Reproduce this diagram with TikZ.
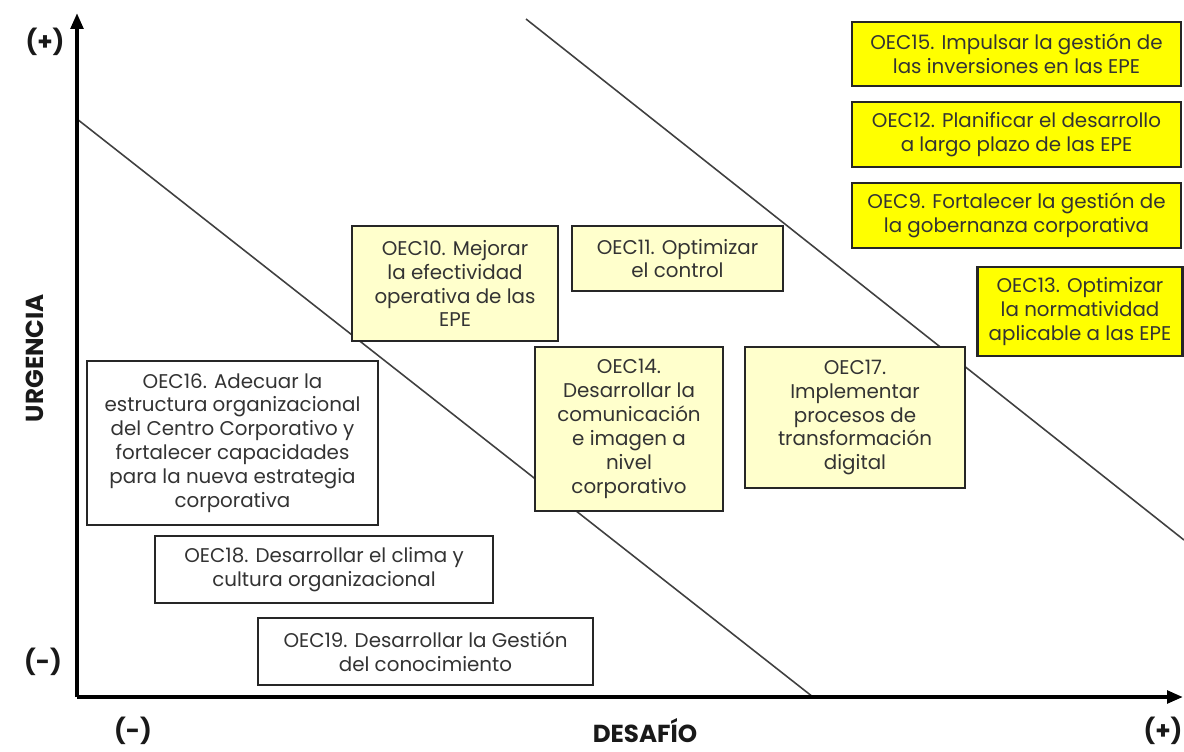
\documentclass[tikz,border=0pt]{standalone}
\usepackage{fontspec}
\setmainfont{Poppins}
\usetikzlibrary{arrows.meta}
\definecolor{paleyellow}{HTML}{FFFFCC}
\definecolor{brightyellow}{HTML}{FFFF00}
\tikzset{
  oecbox/.style={draw=black!85, line width=1.2pt, align=center, font=\fontsize{11.3}{13.6}\selectfont,
    text=black!80, inner sep=0pt},
  oecwhite/.style={oecbox, fill=white},
  oecpale/.style={oecbox, fill=paleyellow},
  oecyellow/.style={oecbox, fill=brightyellow},
  axislabel/.style={font=\fontsize{14}{16}\selectfont\bfseries, text=black!90}
}
\begin{document}
\begin{tikzpicture}[x=0.02cm, y=-0.02cm]
      \useasboundingbox (0,0) rectangle (1184,751);
      \coordinate (O) at (77,697);
      \coordinate (Ytop) at (77,13);
      \coordinate (Xend) at (1183,697);
      \coordinate (L1a) at (77,119);
      \coordinate (L1b) at (813,697);
      \coordinate (L2a) at (526,19);
      \coordinate (L2b) at (1184,540);
      \draw[black!75, line width=0.9pt] (L1a) -- (L1b);
      \draw[black!75, line width=0.9pt] (L2a) -- (L2b);
      \draw[line width=2.2pt, -{Triangle[width=7pt,length=9pt]}] (O) -- (Ytop);
      \draw[line width=2.2pt, -{Triangle[width=7pt,length=9pt]}] (O) -- (Xend);
      % axis labels
      \node[axislabel] (yplus) at (45,42) {(+)};
      \node[axislabel] (yminus) at (43,662) {(-)};
      \node[axislabel] (xminus) at (133,731) {(-)};
      \node[axislabel] (xplus) at (1163,731) {(+)};
      \node[axislabel] (xname) at (645,731) {DESAFÍO};
      \node[axislabel, rotate=90] (yname) at (35,358) {URGENCIA};
      % yellow boxes
      \node[oecyellow, minimum width=6.58cm, minimum height=1.28cm] (oec15) at (1016.5,54) {OEC15. Impulsar la gestión de\\las inversiones en las EPE};
      \node[oecyellow, minimum width=6.58cm, minimum height=1.3cm] (oec12) at (1016.5,134.5) {OEC12. Planificar el desarrollo\\a largo plazo de las EPE};
      \node[oecyellow, minimum width=6.58cm, minimum height=1.3cm] (oec9) at (1016.5,215.5) {OEC9. Fortalecer la gestión de\\la gobernanza corporativa};
      \node[oecyellow, minimum width=4.1cm, minimum height=1.78cm] (oec13) at (1080,311.5) {OEC13. Optimizar\\la normatividad\\aplicable a las EPE};
      % pale boxes
      \node[oecpale, minimum width=4.12cm, minimum height=2.3cm] (oec10) at (455,283.5) {OEC10. Mejorar\\la efectividad\\operativa de las\\EPE};
      \node[oecpale, minimum width=4.22cm, minimum height=1.3cm] (oec11) at (677.5,258.5) {OEC11. Optimizar\\el control};
      \node[oecpale, minimum width=3.76cm, minimum height=3.28cm] (oec14) at (629,429) {OEC14.\\Desarrollar la\\comunicación\\e imagen a\\nivel\\corporativo};
      \node[oecpale, minimum width=4.4cm, minimum height=2.82cm] (oec17) at (855,417.5) {OEC17.\\Implementar\\procesos de\\transformación\\digital};
      % white boxes
      \node[oecwhite, minimum width=5.82cm, minimum height=3.28cm] (oec16) at (232.5,443) {OEC16. Adecuar la\\estructura organizacional\\del Centro Corporativo y\\fortalecer capacidades\\para la nueva estrategia\\corporativa};
      \node[oecwhite, minimum width=6.76cm, minimum height=1.34cm] (oec18) at (324,569.5) {OEC18. Desarrollar el clima y\\cultura organizacional};
      \node[oecwhite, minimum width=6.7cm, minimum height=1.34cm] (oec19) at (425.5,651.5) {OEC19. Desarrollar la Gestión\\del conocimiento};
    \end{tikzpicture}
\end{document}
